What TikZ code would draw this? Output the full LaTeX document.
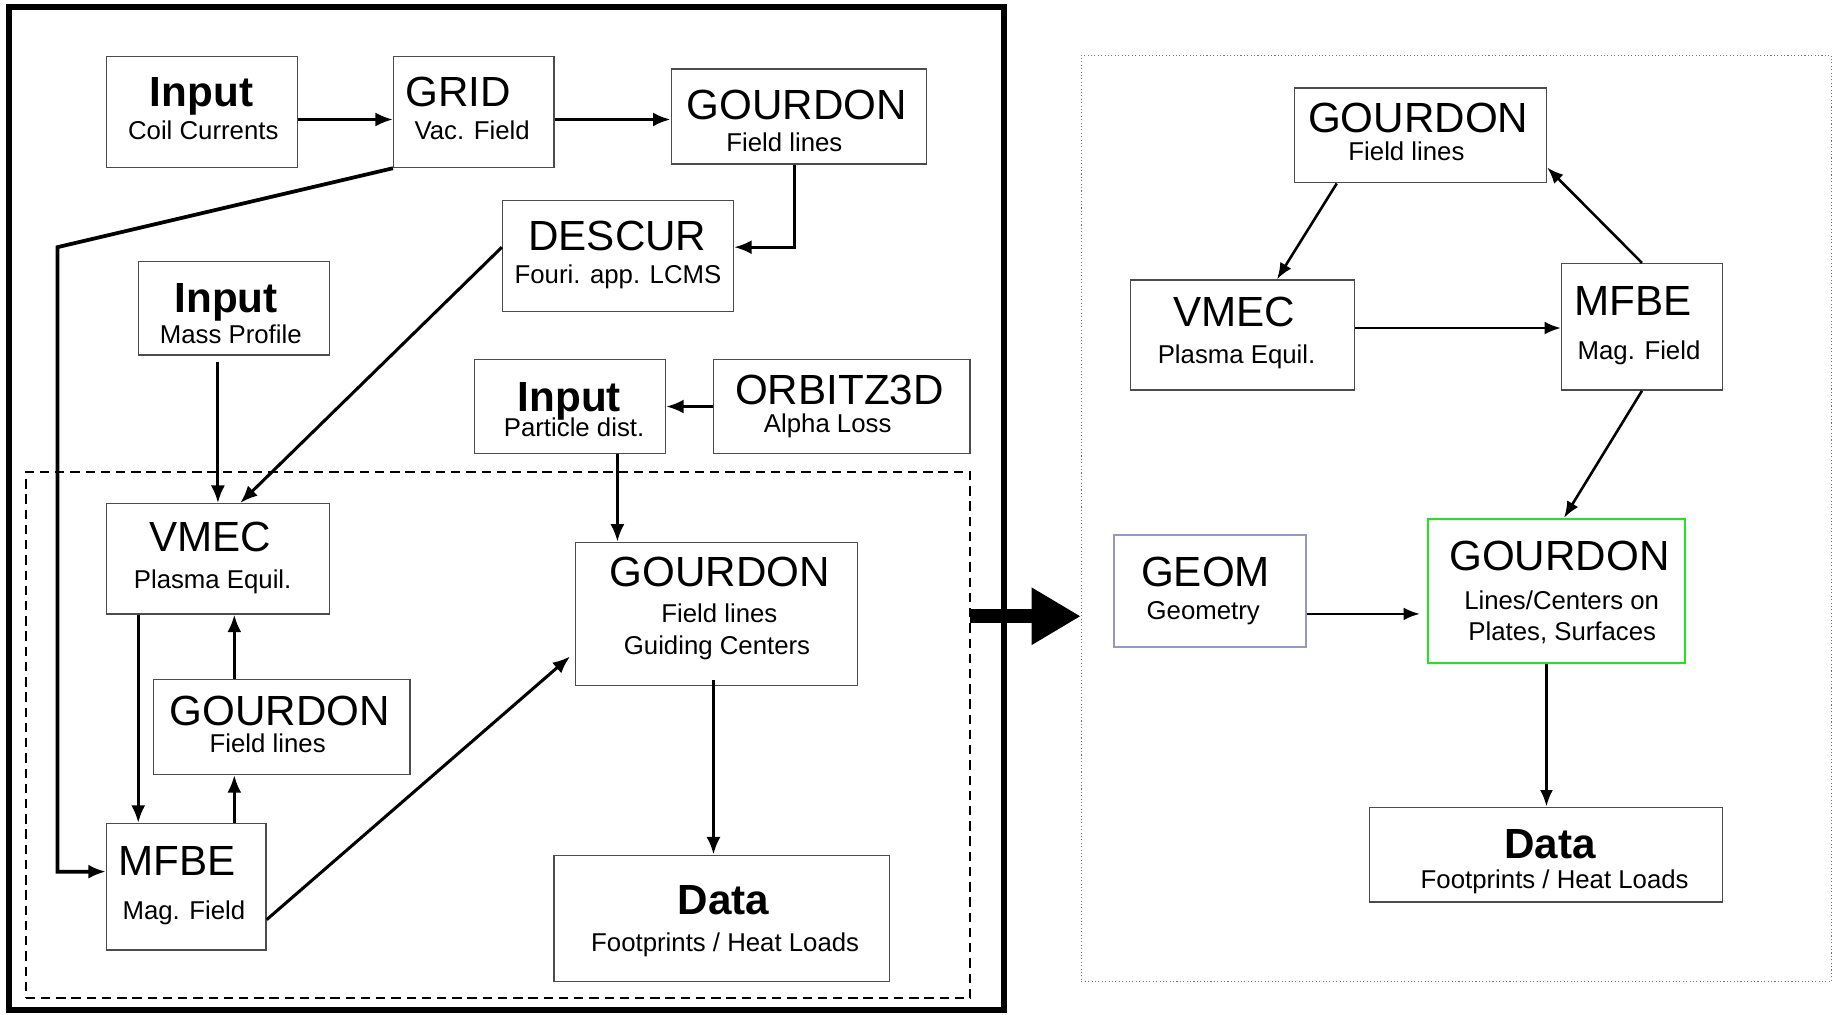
\documentclass[tikz,border=0pt]{standalone}
\usepackage{fontspec}
\setmainfont{Liberation Sans}
\usetikzlibrary{arrows.meta,fit,calc}
\begin{document}
\begin{tikzpicture}[x=1pt,y=-1pt,
 box/.style={draw=black!70, line width=1.2pt, inner sep=0pt},
 big/.style={font=\fontsize{36}{40}\selectfont, inner sep=0pt, anchor=base},
 bigb/.style={font=\fontsize{36}{40}\selectfont\bfseries, inner sep=0pt, anchor=base},
 sub/.style={font=\fontsize{22}{26}\selectfont, inner sep=0pt, anchor=base},
 arrL/.style={line width=2.6pt, -{Latex[length=15pt,width=12pt]}},
 arrR/.style={line width=2.2pt, -{Latex[length=14pt,width=11pt]}},
]
\useasboundingbox (0,0) rectangle (1568,866);
\fill[white] (0,0) rectangle (1568,866);

% ---------- left panel frames ----------
\node[draw=black, line width=5pt, inner sep=0pt, fit={(8,6)(857,862)}] (panelL) {};
\node[draw=black, line width=1.6pt, dash pattern=on 8pt off 5pt, inner sep=0pt, fit={(22,403)(828,852)}] (dashL) {};

% ---------- left boxes ----------
\node[box, fit={(91,48)(254,143)}] (coil) {};
\node[bigb] (t1) at (172,91) {Input};
\node[sub] (t2) at (173.5,119) {Coil Currents};

\node[box, fit={(336,48)(473,143)}] (grid) {};
\node[big] (t3) at (391,91) {GRID};
\node[sub] (t4) at (403,119) {Vac. Field};

\node[box, fit={(573,59)(791,140)}] (gourdonA) {};
\node[big] (t5) at (680,102) {GOURDON};
\node[sub] (t6) at (669.5,129) {Field lines};

\node[box, fit={(429,171)(626,266)}] (descur) {};
\node[big] (t7) at (527,214) {DESCUR};
\node[sub] (t8) at (527.5,242) {Fouri. app. LCMS};

\node[box, fit={(118,223)(281,303)}] (mass) {};
\node[bigb] (t9) at (193,267) {Input};
\node[sub] (t10) at (197,293) {Mass Profile};

\node[box, fit={(405,307)(568,387)}] (particle) {};
\node[bigb] (t11) at (486,351) {Input};
\node[sub] (t12) at (490,373) {Particle dist.};

\node[box, fit={(609,307)(828,387)}] (orbitz) {};
\node[big] (t13) at (716.5,345) {ORBITZ3D};
\node[sub] (t14) at (706.5,369) {Alpha Loss};

\node[box, fit={(91,430)(281,524)}] (vmec) {};
\node[big] (t15) at (179.5,471) {VMEC};
\node[sub] (t16) at (181.5,502) {Plasma Equil.};

\node[box, fit={(131,580)(350,661)}] (gourdonB) {};
\node[big] (t17) at (239,619) {GOURDON};
\node[sub] (t18) at (228.5,642) {Field lines};

\node[box, fit={(91,703)(227,811)}] (mfbe) {};
\node[big] (t19) at (151,747) {MFBE};
\node[sub] (t20) at (157,785) {Mag. Field};

\node[box, fit={(491,463)(732,585)}] (gourdonC) {};
\node[big] (t21) at (614.5,501) {GOURDON};
\node[sub] (t22) at (614,531) {Field lines};
\node[sub] (t23) at (612,559) {Guiding Centers};

\node[box, fit={(473,730)(759,838)}] (dataL) {};
\node[bigb] (t24) at (617.5,781) {Data};
\node[sub] (t25) at (619,812) {Footprints / Heat Loads};

% ---------- left connectors ----------
\coordinate (c1) at ([yshift=-6.5pt]coil.east);
\draw[arrL] (c1) -- (c1 -| grid.west);
\coordinate (c2) at ([yshift=-6.5pt]grid.east);
\draw[arrL] (c2) -- (c2 -| gourdonA.west);
\coordinate (c3) at ([xshift=-4pt]gourdonA.south);
\coordinate (c4) at ([yshift=7.5pt]descur.east);
\draw[arrL] (c3) |- (c4);
\coordinate (bend1) at (49,211);
\coordinate (c5) at ([yshift=13pt]mfbe.west);
\draw[arrL, line width=3.2pt] (grid.south west) -- (bend1) |- (c5);
\coordinate (c6) at ([yshift=7.5pt]descur.west);
\coordinate (c7) at ([xshift=19pt]vmec.north);
\draw[arrL] (c6) -- (c7);
\coordinate (c8) at ([xshift=-13.5pt,yshift=-5pt]mass.south);
\draw[arrL] (c8) -- (c8 |- vmec.north);
\draw[arrL] (orbitz.west) -- (orbitz.west -| particle.east);
\coordinate (c9) at ([xshift=40.5pt]particle.south);
\draw[arrL] (c9) -- (c9 |- gourdonC.north);
\coordinate (c10) at ([xshift=-68pt]vmec.south);
\draw[arrL] (c10) -- (c10 |- mfbe.north);
\coordinate (c11) at ([xshift=41pt]mfbe.north);
\draw[arrL] (c11) -- (c11 |- gourdonB.south);
\coordinate (c12) at ([xshift=-40.5pt]gourdonB.north);
\draw[arrL] (c12) -- (c12 |- vmec.south);
\coordinate (c13) at ([yshift=-28pt]mfbe.east);
\coordinate (c14) at ([yshift=-33pt]gourdonC.west);
\draw[arrL, shorten >=5pt] (c13) -- (c14);
\coordinate (c15) at ([xshift=-2.5pt,yshift=5pt]gourdonC.south);
\draw[arrL] (c15) -- (c15 |- dataL.north);

% ---------- right panel ----------
\node[draw=black!55, line width=0.9pt, dotted, inner sep=0pt, fit={(923,47)(1563,838)}] (panelR) {};

\coordinate (bigA) at (828,526);
\draw[line width=12pt, -{Triangle[length=42pt,width=46pt]}] (bigA) -- (bigA -| panelR.west);

\node[box, fit={(1105,75)(1320,156)}] (gourdonR) {};
\node[big] (r1) at (1210.5,113) {GOURDON};
\node[sub] (r2) at (1200.5,137) {Field lines};

\node[box, fit={(965,239)(1156,333)}] (vmecR) {};
\node[big] (r3) at (1053.5,279) {VMEC};
\node[sub] (r4) at (1055.5,310) {Plasma Equil.};

\node[box, fit={(1333,225)(1470,333)}] (mfbeR) {};
\node[big] (r5) at (1394,269) {MFBE};
\node[sub] (r6) at (1399,307) {Mag. Field};

\node[box, draw={rgb,255:red,150;green,150;blue,205}, line width=1.6pt, fit={(951,457)(1115,552)}] (geom) {};
\node[big] (r7) at (1029,501) {GEOM};
\node[sub] (r8) at (1027,529) {Geometry};

\node[box, draw={rgb,255:red,30;green,230;blue,30}, line width=2pt, fit={(1219,443)(1438,566)}] (gourdonG) {};
\node[big] (r9) at (1331,487) {GOURDON};
\node[sub] (r10) at (1333,520) {Lines/Centers on};
\node[sub] (r11) at (1333.5,547) {Plates, Surfaces};

\node[box, fit={(1169,689)(1470,770)}] (dataR) {};
\node[bigb] (r12) at (1323,733) {Data};
\node[sub] (r13) at (1327,758) {Footprints / Heat Loads};

% ---------- right connectors ----------
\draw[arrR] ([xshift=-71.5pt]gourdonR.south) -- ([xshift=29.5pt]vmecR.north);
\coordinate (d1) at ([yshift=6pt]vmecR.east);
\draw[arrR] (d1) -- (d1 -| mfbeR.west);
\draw[arrR] (mfbeR.north) -- ([yshift=-27.5pt]gourdonR.east);
\draw[arrR] (mfbeR.south) -- ([xshift=6.5pt]gourdonG.north);
\coordinate (d2) at ([yshift=-19.5pt]geom.east);
\draw[arrR, shorten >=6pt] (d2) -- (d2 -| gourdonG.west);
\coordinate (d3) at ([xshift=-8.5pt]gourdonG.south);
\draw[arrR] (d3) -- (d3 |- dataR.north);
\end{tikzpicture}
\end{document}
